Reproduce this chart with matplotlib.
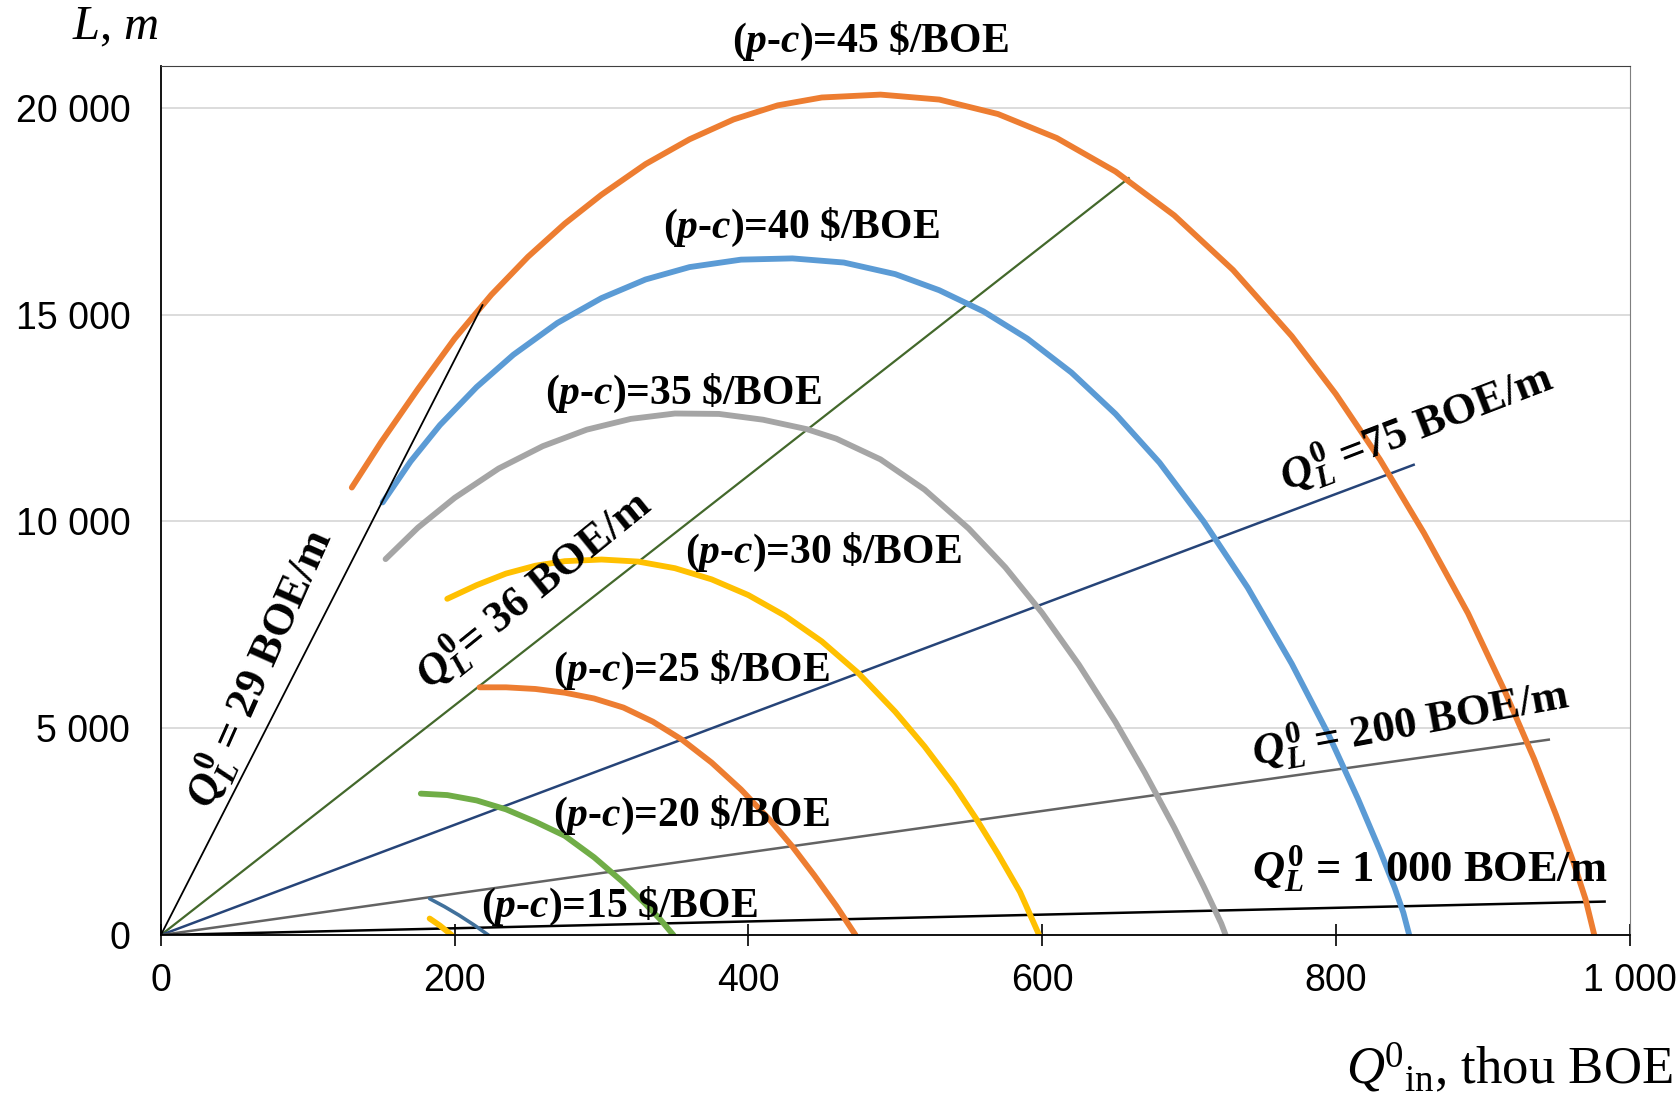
import matplotlib.pyplot as plt

plt.rcParams['mathtext.fontset'] = 'custom'
plt.rcParams['mathtext.it'] = 'Liberation Serif:italic:bold'
plt.rcParams['mathtext.bf'] = 'Liberation Serif:bold'
plt.rcParams['mathtext.rm'] = 'Liberation Serif'
plt.rcParams['mathtext.sf'] = 'Liberation Serif:italic'

# (p-c) curves: Q0_in (thou BOE) vs L (m)
q45 = [130, 150, 175, 200, 225, 250, 275, 300, 330, 360, 390, 420, 450, 490, 530, 570,
       610, 650, 690, 730, 770, 800, 830, 860, 890, 915, 935, 950, 962, 970, 976]
l45 = [10820, 11920, 13200, 14420, 15480, 16400, 17200, 17900, 18640, 19240, 19720, 20060,
       20250, 20320, 20200, 19850, 19270, 18460, 17400, 16080, 14480, 13080, 11500, 9720,
       7780, 5900, 4260, 2900, 1740, 870, 0]

q40 = [151, 170, 190, 215, 240, 270, 300, 330, 360, 395, 430, 465, 500, 530, 560, 590,
       620, 650, 680, 710, 740, 770, 795, 815, 830, 840, 846, 850]
l40 = [10460, 11450, 12330, 13250, 14030, 14800, 15400, 15850, 16150, 16330, 16360, 16260,
       15980, 15590, 15080, 14420, 13600, 12600, 11420, 10000, 8400, 6560, 4850, 3300,
       2050, 1150, 540, 0]

q35 = [153, 175, 200, 230, 260, 290, 320, 350, 380, 410, 440, 460, 490, 520, 550, 575,
       600, 625, 650, 670, 690, 710, 722, 725]
l35 = [9090, 9850, 10570, 11280, 11820, 12220, 12480, 12610, 12600, 12460, 12230, 12000,
       11500, 10770, 9830, 8890, 7790, 6540, 5150, 3920, 2600, 1180, 280, 0]

q30 = [195, 215, 235, 255, 275, 300, 325, 350, 375, 400, 425, 450, 475, 500, 520, 540,
       555, 570, 585, 598]
l30 = [8130, 8460, 8740, 8930, 9040, 9080, 9030, 8870, 8600, 8220, 7720, 7100, 6330, 5400,
       4560, 3620, 2820, 1960, 1040, 0]

q25 = [217, 235, 255, 275, 295, 315, 335, 355, 375, 395, 415, 430, 445, 460, 473]
l25 = [5990, 5990, 5950, 5860, 5720, 5500, 5160, 4720, 4170, 3520, 2770, 2140, 1440, 700, 0]

q20 = [177, 195, 215, 235, 255, 275, 295, 315, 330, 340, 349]
l20 = [3420, 3385, 3255, 3040, 2740, 2400, 1880, 1270, 750, 380, 0]

q15 = [183, 193, 203, 213, 223]
l15 = [880, 690, 480, 250, 0]

q10 = [183, 190, 198]
l10 = [400, 230, 0]

# Q_L^0 rays from the origin
ray29_q, ray29_l = [0, 219], [0, 15230]
ray36_q, ray36_l = [0, 659], [0, 18300]
ray75_q, ray75_l = [0, 853], [0, 11370]
ray200_q, ray200_l = [0, 945], [0, 4725]
ray1000_q, ray1000_l = [0, 983], [0, 810]

xticks = [0, 200, 400, 600, 800, 1000]
xtick_labels = ['0', '200', '400', '600', '800', '1 000']
yticks = [0, 5000, 10000, 15000, 20000]
ytick_labels = ['0', '5 000', '10 000', '15 000', '20 000']

fig = plt.figure(figsize=(16.81, 10.97), dpi=100)
ax = fig.add_axes([0.0957, 0.1476, 0.8737, 0.7918])

# rays
ax.plot(ray29_q, ray29_l, color='black', lw=1.3, zorder=3)
ax.plot(ray36_q, ray36_l, color='#43682B', lw=1.6, zorder=2)
ax.plot(ray75_q, ray75_l, color='#264478', lw=1.8, zorder=2)
ax.plot(ray200_q, ray200_l, color='#636363', lw=1.8, zorder=2)
ax.plot(ray1000_q, ray1000_l, color='black', lw=1.8, zorder=2)

# curves
cw = 4.2
ax.plot(q45, l45, color='#ED7D31', lw=cw, solid_capstyle='round', solid_joinstyle='round')
ax.plot(q40, l40, color='#5B9BD5', lw=cw, solid_capstyle='round', solid_joinstyle='round')
ax.plot(q35, l35, color='#A5A5A5', lw=cw, solid_capstyle='round', solid_joinstyle='round')
ax.plot(q30, l30, color='#FFC000', lw=cw, solid_capstyle='round', solid_joinstyle='round')
ax.plot(q25, l25, color='#ED7D31', lw=cw, solid_capstyle='round', solid_joinstyle='round')
ax.plot(q20, l20, color='#70AD47', lw=cw, solid_capstyle='round', solid_joinstyle='round')
ax.plot(q15, l15, color='#41719C', lw=2.6, solid_capstyle='round')
ax.plot(q10, l10, color='#FFC000', lw=cw, solid_capstyle='round')

ax.set_xlim(0, 1000)
ax.set_ylim(0, 21000)
ax.set_xticks(xticks)
ax.set_xticklabels(xtick_labels)
ax.set_yticks(yticks)
ax.set_yticklabels(ytick_labels)
for lab in ax.get_xticklabels() + ax.get_yticklabels():
    lab.set_family('Liberation Sans')
    lab.set_fontsize(27)
ax.tick_params(axis='x', direction='inout', length=16, width=1.2, pad=12)
ax.tick_params(axis='y', length=0, pad=22)
ax.yaxis.grid(True, color='#D9D9D9', lw=1.3)
ax.set_axisbelow(True)
ax.spines['left'].set_color('black')
ax.spines['bottom'].set_color('black')
ax.spines['left'].set_linewidth(1.3)
ax.spines['bottom'].set_linewidth(1.3)
ax.spines['top'].set_color('#404040')
ax.spines['right'].set_color('#7F7F7F')

# (p-c) labels
pc = dict(family='Liberation Serif', fontweight='bold', fontsize=30, ha='center', va='center')
ax.text(483, 21600, r'($p$-$c$)=45 \$/BOE', clip_on=False, **pc)
ax.text(436, 17100, r'($p$-$c$)=40 \$/BOE', **pc)
ax.text(356, 13100, r'($p$-$c$)=35 \$/BOE', **pc)
ax.text(451, 9240, r'($p$-$c$)=30 \$/BOE', **pc)
ax.text(361, 6400, r'($p$-$c$)=25 \$/BOE', **pc)
ax.text(361, 2900, r'($p$-$c$)=20 \$/BOE', **pc)
ax.text(312, 700, r'($p$-$c$)=15 \$/BOE', **pc)

# Q_L^0 labels
ql = dict(family='Liberation Serif', fontweight='bold', fontsize=32, ha='center', va='center',
          rotation_mode='anchor')
ax.text(68, 6450, r'$Q_L^{\mathbf{0}}$ = 29 BOE/m', rotation=66, **ql)
ax.text(254, 8350, r'$Q_L^{\mathbf{0}}$= 36 BOE/m', rotation=39, **ql)
ax.text(855, 12250, r'$Q_L^{\mathbf{0}}$ =75 BOE/m', rotation=21, **ql)
ax.text(851, 5100, r'$Q_L^{\mathbf{0}}$ = 200 BOE/m', rotation=10.5, **ql)
ax.text(864, 1600, r'$Q_L^{\mathbf{0}}$ = 1 000 BOE/m', rotation=0, **ql)

# axis titles
fig.text(0.069, 0.975, r'$\mathsf{L}$, $\mathsf{m}$', family='Liberation Serif',
         fontsize=35, ha='center', va='center')
fig.text(0.995, 0.027, r'$\mathsf{Q}^{0}{}_{\mathrm{in}}$, thou BOE', family='Liberation Serif',
         fontsize=38, ha='right', va='center')

fig.savefig('out.png', dpi=100)
